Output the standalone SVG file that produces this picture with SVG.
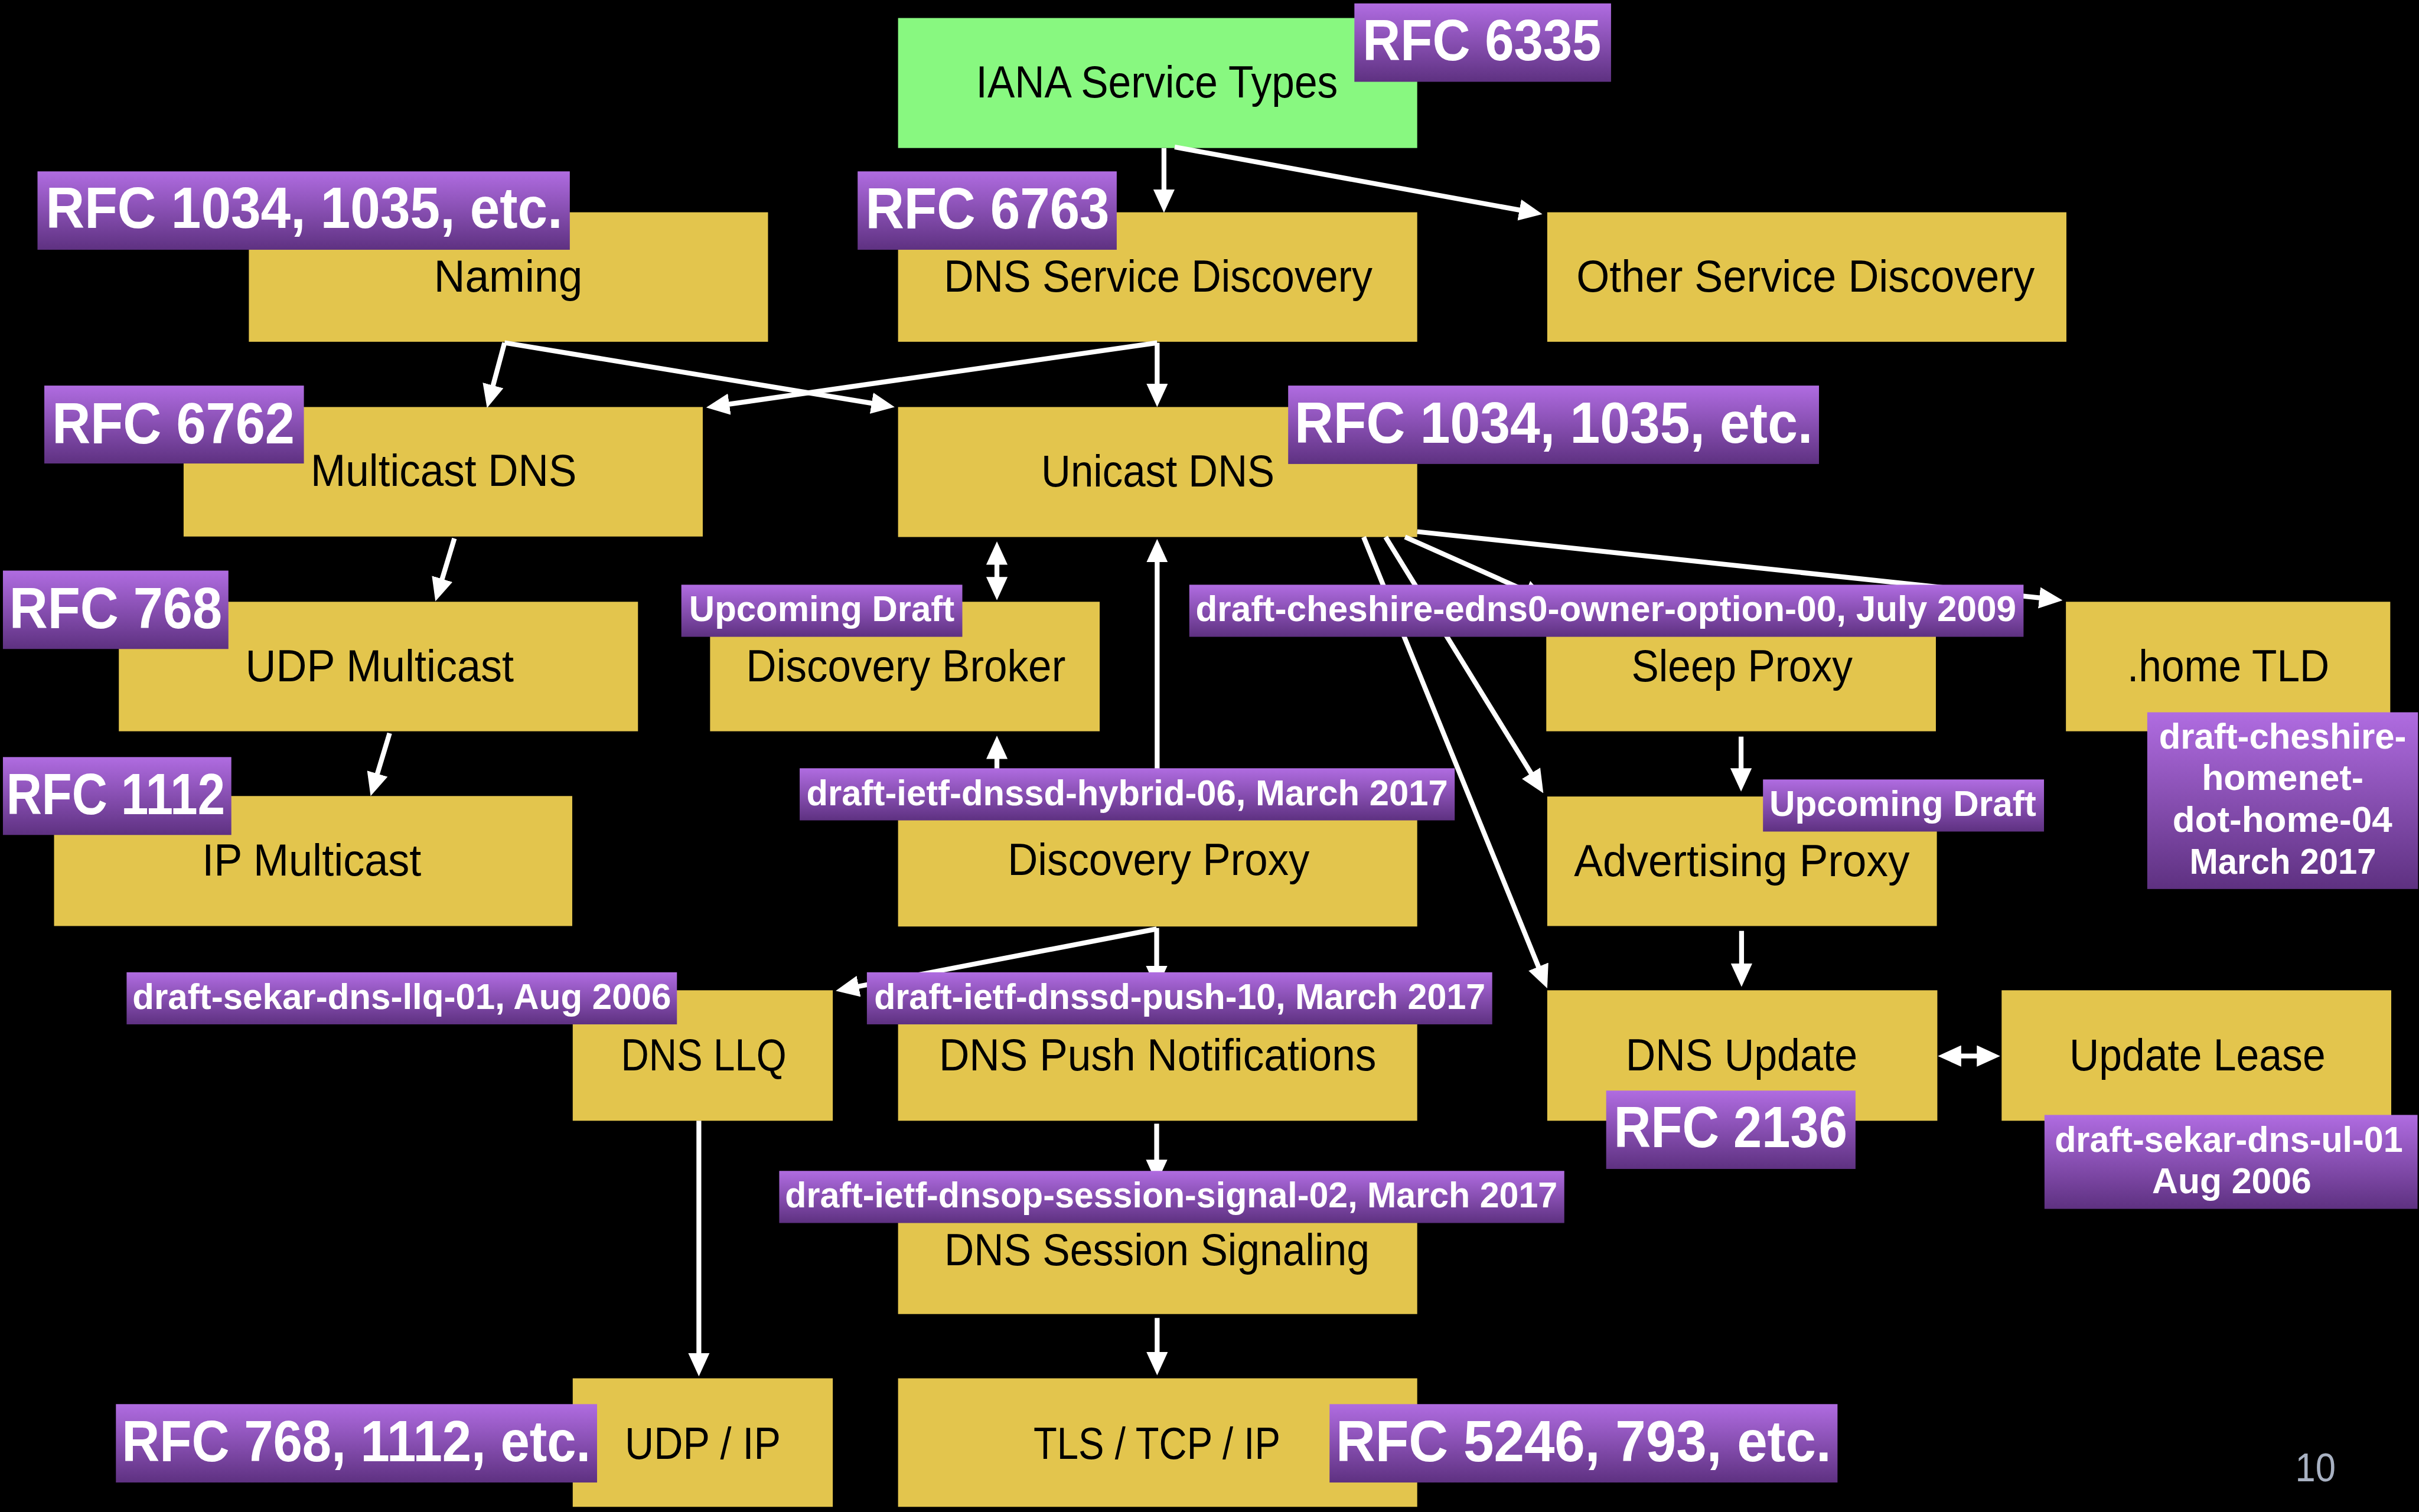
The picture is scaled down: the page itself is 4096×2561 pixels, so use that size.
<svg xmlns="http://www.w3.org/2000/svg" width="4096" height="2561" viewBox="0 0 4096 2561">
<style>
.box{fill:#E3C54D}
.green{fill:#88F880}
.lbl{fill:url(#pg)}
.nt{font-family:"Liberation Sans",Arial,sans-serif;font-size:92px;fill:#000}
.bt{font-family:"Liberation Sans",Arial,sans-serif;font-weight:bold;font-size:119px;fill:#fff}
.st{font-family:"Liberation Sans",Arial,sans-serif;font-weight:bold;font-size:74px;fill:#fff}
.pn{font-family:"Liberation Sans",Arial,sans-serif;font-size:84px;fill:#A8B1C2}
.cn{stroke:#fff;stroke-width:10;fill:none;marker-end:url(#ah)}
.dbl{marker-start:url(#ah)}
</style>
<defs>
<linearGradient id="pg" x1="0" y1="0" x2="0" y2="1">
<stop offset="0" stop-color="#B06CE1"/>
<stop offset="1" stop-color="#5E3181"/>
</linearGradient>
<marker id="ah" viewBox="0 0 48 44" markerWidth="48" markerHeight="44" markerUnits="userSpaceOnUse" refX="18" refY="22" orient="auto-start-reverse">
<path d="M0,0 L48,22 L0,44 z" fill="#fff"/>
</marker>
</defs>
<rect x="0" y="0" width="4096" height="2561" fill="#000"/>
<g transform="scale(0.824642)">
<g id="nodes">
<g id="n-iana"><rect class="green" x="1844" y="37" width="1066" height="267"/><text class="nt" x="2004" y="200" textLength="743" lengthAdjust="spacingAndGlyphs">IANA Service Types</text></g>
<g id="n-naming"><rect class="box" x="511" y="436" width="1066" height="266"/><text class="nt" x="891" y="599" textLength="305" lengthAdjust="spacingAndGlyphs">Naming</text></g>
<g id="n-dnssd"><rect class="box" x="1844" y="436" width="1066" height="266"/><text class="nt" x="1938" y="599" textLength="880" lengthAdjust="spacingAndGlyphs">DNS Service Discovery</text></g>
<g id="n-othersd"><rect class="box" x="3177" y="436" width="1066" height="266"/><text class="nt" x="3237" y="599" textLength="941" lengthAdjust="spacingAndGlyphs">Other Service Discovery</text></g>
<g id="n-mdns"><rect class="box" x="377" y="836" width="1066" height="266"/><text class="nt" x="638" y="998" textLength="546" lengthAdjust="spacingAndGlyphs">Multicast DNS</text></g>
<g id="n-udns"><rect class="box" x="1844" y="836" width="1066" height="267"/><text class="nt" x="2138" y="999" textLength="479" lengthAdjust="spacingAndGlyphs">Unicast DNS</text></g>
<g id="n-udpmc"><rect class="box" x="244" y="1236" width="1066" height="266"/><text class="nt" x="504" y="1399" textLength="551" lengthAdjust="spacingAndGlyphs">UDP Multicast</text></g>
<g id="n-broker"><rect class="box" x="1458" y="1236" width="800" height="266"/><text class="nt" x="1532" y="1399" textLength="656" lengthAdjust="spacingAndGlyphs">Discovery Broker</text></g>
<g id="n-sleep"><rect class="box" x="3175" y="1236" width="800" height="266"/><text class="nt" x="3350" y="1399" textLength="454" lengthAdjust="spacingAndGlyphs">Sleep Proxy</text></g>
<g id="n-home"><rect class="box" x="4242" y="1236" width="666" height="266"/><text class="nt" x="4368" y="1399" textLength="415" lengthAdjust="spacingAndGlyphs">.home TLD</text></g>
<g id="n-ipmc"><rect class="box" x="111" y="1635" width="1064" height="267"/><text class="nt" x="415" y="1798" textLength="450" lengthAdjust="spacingAndGlyphs">IP Multicast</text></g>
<g id="n-dproxy"><rect class="box" x="1844" y="1635" width="1066" height="268"/><text class="nt" x="2069" y="1797" textLength="620" lengthAdjust="spacingAndGlyphs">Discovery Proxy</text></g>
<g id="n-adv"><rect class="box" x="3177" y="1636" width="800" height="266"/><text class="nt" x="3232" y="1799" textLength="689" lengthAdjust="spacingAndGlyphs">Advertising Proxy</text></g>
<g id="n-llq"><rect class="box" x="1176" y="2034" width="534" height="268"/><text class="nt" x="1275" y="2199" textLength="340" lengthAdjust="spacingAndGlyphs">DNS LLQ</text></g>
<g id="n-push"><rect class="box" x="1844" y="2034" width="1066" height="268"/><text class="nt" x="1928" y="2199" textLength="898" lengthAdjust="spacingAndGlyphs">DNS Push Notifications</text></g>
<g id="n-update"><rect class="box" x="3177" y="2034" width="801" height="268"/><text class="nt" x="3338" y="2199" textLength="476" lengthAdjust="spacingAndGlyphs">DNS Update</text></g>
<g id="n-lease"><rect class="box" x="4110" y="2034" width="800" height="268"/><text class="nt" x="4249" y="2199" textLength="526" lengthAdjust="spacingAndGlyphs">Update Lease</text></g>
<g id="n-session"><rect class="box" x="1844" y="2433" width="1066" height="266"/><text class="nt" x="1939" y="2599" textLength="873" lengthAdjust="spacingAndGlyphs">DNS Session Signaling</text></g>
<g id="n-udpip"><rect class="box" x="1176" y="2831" width="534" height="264"/><text class="nt" x="1283" y="2996" textLength="320" lengthAdjust="spacingAndGlyphs">UDP / IP</text></g>
<g id="n-tls"><rect class="box" x="1844" y="2831" width="1066" height="264"/><text class="nt" x="2122" y="2996" textLength="507" lengthAdjust="spacingAndGlyphs">TLS / TCP / IP</text></g>
</g>
<g id="connectors">
<line class="cn" x1="2390" y1="304" x2="2390" y2="407"/>
<line class="cn" x1="2412" y1="302" x2="3137.5" y2="434.6"/>
<line class="cn" x1="1036" y1="704" x2="1007.8" y2="809"/>
<line class="cn" x1="1036" y1="704" x2="1807.4" y2="831.1"/>
<line class="cn" x1="2376" y1="704" x2="1479.7" y2="832.7"/>
<line class="cn" x1="2376" y1="704" x2="2376" y2="806"/>
<line class="cn" x1="933" y1="1106" x2="902.7" y2="1206.3"/>
<line class="cn" x1="800" y1="1506" x2="769.7" y2="1606.3"/>
<line class="cn dbl" x1="2047" y1="1142" x2="2047" y2="1203"/>
<line class="cn" x1="2376" y1="1635" x2="2376" y2="1137"/>
<line class="cn" x1="2047" y1="1635" x2="2047" y2="1541"/>
<line class="cn" x1="2885" y1="1103" x2="3149.6" y2="1220.8"/>
<line class="cn" x1="2845" y1="1103" x2="3153.3" y2="1603.5"/>
<line class="cn" x1="2800" y1="1103" x2="3165.7" y2="2002.2"/>
<line class="cn" x1="2910" y1="1092" x2="4205.2" y2="1229.8"/>
<line class="cn" x1="3575" y1="1513" x2="3575" y2="1596"/>
<line class="cn" x1="3576" y1="1912" x2="3576" y2="1997"/>
<line class="cn dbl" x1="4009" y1="2169" x2="4077" y2="2169"/>
<line class="cn" x1="2375" y1="1906" x2="2375" y2="2002"/>
<line class="cn" x1="2375" y1="1908" x2="1745.5" y2="2029.3"/>
<line class="cn" x1="2375" y1="2308" x2="2375" y2="2400"/>
<line class="cn" x1="1435" y1="2302" x2="1435" y2="2797"/>
<line class="cn" x1="2376" y1="2707" x2="2376" y2="2795"/>
</g>
<g id="labels">
<g id="l-6335"><rect class="lbl" x="2781" y="7" width="527" height="161"/><text class="bt" x="2798" y="124" textLength="490" lengthAdjust="spacingAndGlyphs">RFC 6335</text></g>
<g id="l-naming"><rect class="lbl" x="77" y="352" width="1093" height="161"/><text class="bt" x="94" y="468" textLength="1061" lengthAdjust="spacingAndGlyphs">RFC 1034, 1035, etc.</text></g>
<g id="l-6763"><rect class="lbl" x="1761" y="352" width="532" height="161"/><text class="bt" x="1777" y="469" textLength="501" lengthAdjust="spacingAndGlyphs">RFC 6763</text></g>
<g id="l-6762"><rect class="lbl" x="91" y="792" width="533" height="160"/><text class="bt" x="107" y="911" textLength="498" lengthAdjust="spacingAndGlyphs">RFC 6762</text></g>
<g id="l-unicast"><rect class="lbl" x="2645" y="792" width="1090" height="161"/><text class="bt" x="2658" y="910" textLength="1064" lengthAdjust="spacingAndGlyphs">RFC 1034, 1035, etc.</text></g>
<g id="l-768"><rect class="lbl" x="6" y="1172" width="463" height="161"/><text class="bt" x="19" y="1290" textLength="437" lengthAdjust="spacingAndGlyphs">RFC 768</text></g>
<g id="l-1112"><rect class="lbl" x="6" y="1555" width="469" height="160"/><text class="bt" x="13" y="1672" textLength="449" lengthAdjust="spacingAndGlyphs">RFC 1112</text></g>
<g id="l-2136"><rect class="lbl" x="3298" y="2240" width="512" height="161"/><text class="bt" x="3314" y="2356" textLength="479" lengthAdjust="spacingAndGlyphs">RFC 2136</text></g>
<g id="l-udpip"><rect class="lbl" x="238" y="2884" width="988" height="161"/><text class="bt" x="250" y="3001" textLength="963" lengthAdjust="spacingAndGlyphs">RFC 768, 1112, etc.</text></g>
<g id="l-tls"><rect class="lbl" x="2730" y="2884" width="1043" height="161"/><text class="bt" x="2743" y="3001" textLength="1017" lengthAdjust="spacingAndGlyphs">RFC 5246, 793, etc.</text></g>
<g id="l-broker"><rect class="lbl" x="1399" y="1201" width="577" height="107"/><text class="st" x="1415" y="1276" textLength="545" lengthAdjust="spacingAndGlyphs">Upcoming Draft</text></g>
<g id="l-edns0"><rect class="lbl" x="2442" y="1201" width="1713" height="107"/><text class="st" x="2455" y="1276" textLength="1685" lengthAdjust="spacingAndGlyphs">draft-cheshire-edns0-owner-option-00, July 2009</text></g>
<g id="l-hybrid"><rect class="lbl" x="1642" y="1578" width="1345" height="107"/><text class="st" x="1656" y="1654" textLength="1317" lengthAdjust="spacingAndGlyphs">draft-ietf-dnssd-hybrid-06, March 2017</text></g>
<g id="l-adv"><rect class="lbl" x="3620" y="1601" width="577" height="107"/><text class="st" x="3633" y="1676" textLength="548" lengthAdjust="spacingAndGlyphs">Upcoming Draft</text></g>
<g id="l-llq"><rect class="lbl" x="260" y="1997" width="1130" height="107"/><text class="st" x="272" y="2072" textLength="1106" lengthAdjust="spacingAndGlyphs">draft-sekar-dns-llq-01, Aug 2006</text></g>
<g id="l-push"><rect class="lbl" x="1780" y="1997" width="1284" height="107"/><text class="st" x="1795" y="2072" textLength="1255" lengthAdjust="spacingAndGlyphs">draft-ietf-dnssd-push-10, March 2017</text></g>
<g id="l-session"><rect class="lbl" x="1600" y="2405" width="1612" height="107"/><text class="st" x="1612" y="2480" textLength="1586" lengthAdjust="spacingAndGlyphs">draft-ietf-dnsop-session-signal-02, March 2017</text></g>
<g id="l-homenet"><rect class="lbl" x="4409" y="1463" width="556" height="363"/>
<text class="st" x="4433" y="1538" textLength="508" lengthAdjust="spacingAndGlyphs">draft-cheshire-</text>
<text class="st" x="4521" y="1623" textLength="332" lengthAdjust="spacingAndGlyphs">homenet-</text>
<text class="st" x="4461" y="1709" textLength="451" lengthAdjust="spacingAndGlyphs">dot-home-04</text>
<text class="st" x="4496" y="1795" textLength="383" lengthAdjust="spacingAndGlyphs">March 2017</text></g>
<g id="l-ul"><rect class="lbl" x="4198" y="2290" width="766" height="193"/>
<text class="st" x="4219" y="2366" textLength="715" lengthAdjust="spacingAndGlyphs">draft-sekar-dns-ul-01</text>
<text class="st" x="4419" y="2451" textLength="327" lengthAdjust="spacingAndGlyphs">Aug 2006</text></g>
</g>
<text class="pn" x="4713" y="3042" textLength="83" lengthAdjust="spacingAndGlyphs">10</text>
</g>
</svg>
